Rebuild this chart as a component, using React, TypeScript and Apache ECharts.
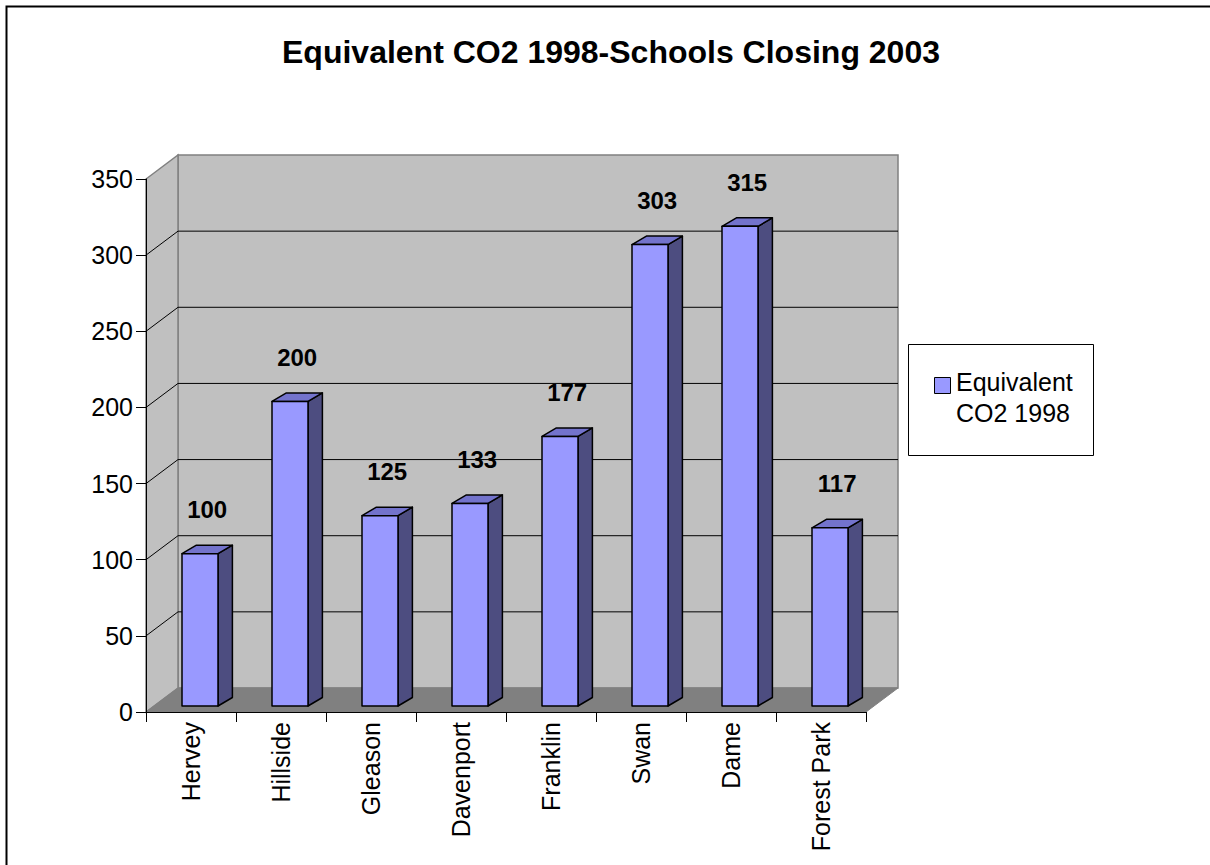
import React, { useEffect, useRef } from "react";
import * as echarts from "echarts";

// School names along the category axis
const categories = ["Hervey", "Hillside", "Gleason", "Davenport", "Franklin", "Swan", "Dame", "Forest Park"];
// Equivalent CO2 for 1998, one value per school
const co2Values = [100, 200, 125, 133, 177, 303, 315, 117];
// Value axis ticks
const yTicks = [0, 50, 100, 150, 200, 250, 300, 350];
const seriesName = "Equivalent CO2 1998";
const chartTitle = "Equivalent CO2 1998-Schools Closing 2003";

const FONT = "'Liberation Sans', Arial, Helvetica, sans-serif";

// Projection of the 3D box: wall depth and bar depth offsets (px)
const WALL_DX = 32;
const WALL_DY = -24;
const BAR_OX = 9;
const BAR_OY = -6;
const BAR_DX = 14.4;
const BAR_DY = -8.5;

export default function App() {
  const ref = useRef<HTMLDivElement>(null);

  useEffect(() => {
    if (!ref.current) return;
    const chart = echarts.init(ref.current, undefined, { renderer: "svg" });

    const renderWalls = (params: any, api: any) => {
      const cs = params.coordSys;
      const x0 = cs.x;
      const x1 = cs.x + cs.width;
      const yb = api.coord([0, yTicks[0]])[1];
      const yt = api.coord([0, yTicks[yTicks.length - 1]])[1];
      const children: any[] = [];
      // back wall
      children.push({
        type: "rect",
        shape: { x: x0 + WALL_DX, y: yt + WALL_DY, width: x1 - x0, height: yb - yt },
        style: { fill: "#c0c0c0", stroke: "#808080", lineWidth: 1.5 },
      });
      // side wall
      children.push({
        type: "polygon",
        shape: {
          points: [
            [x0, yb],
            [x0, yt],
            [x0 + WALL_DX, yt + WALL_DY],
            [x0 + WALL_DX, yb + WALL_DY],
          ],
        },
        style: { fill: "#c0c0c0", stroke: "#808080", lineWidth: 1.5 },
      });
      // gridlines on back and side walls
      yTicks.slice(1, -1).forEach((v) => {
        const y = api.coord([0, v])[1];
        children.push({
          type: "polyline",
          shape: {
            points: [
              [x0, y],
              [x0 + WALL_DX, y + WALL_DY],
              [x1 + WALL_DX, y + WALL_DY],
            ],
          },
          style: { stroke: "#000", lineWidth: 1, fill: null },
        });
      });
      // floor
      children.push({
        type: "polygon",
        shape: {
          points: [
            [x0, yb],
            [x1, yb],
            [x1 + WALL_DX, yb + WALL_DY],
            [x0 + WALL_DX, yb + WALL_DY],
          ],
        },
        style: { fill: "#808080", stroke: "#808080", lineWidth: 1 },
      });
      return { type: "group", children };
    };

    const renderBar = (params: any, api: any) => {
      const idx = api.value(0);
      const val = api.value(1);
      const base = api.coord([idx, 0]);
      const top = api.coord([idx, val]);
      const w = api.size([1, 0])[0] * 0.4;
      const xl = base[0] + BAR_OX - w / 2;
      const xr = xl + w;
      const yb = base[1] + BAR_OY;
      const yt = top[1] + BAR_OY;
      const edge = { stroke: "#000", lineWidth: 1.5, lineJoin: "round" };
      return {
        type: "group",
        children: [
          {
            type: "polygon",
            shape: {
              points: [
                [xr, yb],
                [xr, yt],
                [xr + BAR_DX, yt + BAR_DY],
                [xr + BAR_DX, yb + BAR_DY],
              ],
            },
            style: { fill: "#4d4d80", ...edge },
          },
          {
            type: "polygon",
            shape: {
              points: [
                [xl, yt],
                [xr, yt],
                [xr + BAR_DX, yt + BAR_DY],
                [xl + BAR_DX, yt + BAR_DY],
              ],
            },
            style: { fill: "#7373cc", ...edge },
          },
          {
            type: "rect",
            shape: { x: xl, y: yt, width: w, height: yb - yt },
            style: { fill: "#9999ff", ...edge },
          },
          {
            type: "text",
            style: {
              text: String(val),
              x: (xl + xr) / 2 + BAR_DX / 2,
              y: yt - 44,
              align: "center",
              verticalAlign: "middle",
              fontSize: 24,
              fontWeight: "bold",
              fontFamily: FONT,
              fill: "#000",
            },
          },
        ],
      };
    };

    const legendLines = seriesName.replace(" CO2", "\nCO2");

    chart.setOption({
      animation: false,
      backgroundColor: "#fff",
      textStyle: { fontFamily: FONT },
      grid: { left: 146, top: 179, width: 720, height: 533, containLabel: false },
      xAxis: {
        type: "category",
        data: categories,
        boundaryGap: true,
        z: 5,
        axisLine: { show: true, lineStyle: { color: "#000", width: 1 } },
        axisTick: { show: true, length: 10, alignWithLabel: false, lineStyle: { color: "#000" } },
        axisLabel: {
          rotate: 90,
          margin: 10,
          fontSize: 25,
          color: "#000",
          fontFamily: FONT,
          interval: 0,
        },
        splitLine: { show: false },
      },
      yAxis: {
        type: "value",
        min: 0,
        max: 350,
        interval: 50,
        z: 5,
        axisLine: { show: true, lineStyle: { color: "#000", width: 1 } },
        axisTick: { show: true, length: 10, lineStyle: { color: "#000" } },
        axisLabel: { fontSize: 25, color: "#000", margin: 13, fontFamily: FONT },
        splitLine: { show: false },
      },
      series: [
        {
          type: "custom",
          name: "walls",
          z: 1,
          silent: true,
          renderItem: renderWalls,
          data: [[0, 0]],
        },
        {
          type: "custom",
          name: seriesName,
          z: 2,
          silent: true,
          renderItem: renderBar,
          data: co2Values.map((v, i) => [i, v]),
        },
      ],
      graphic: [
        {
          type: "rect",
          shape: { x: 6.5, y: 6.5, width: 1260, height: 920 },
          style: { fill: "none", stroke: "#000", lineWidth: 2 },
          silent: true,
        },
        {
          type: "text",
          x: 611,
          y: 52,
          style: {
            text: chartTitle,
            align: "center",
            verticalAlign: "middle",
            fontSize: 32,
            fontWeight: "bold",
            fontFamily: FONT,
            fill: "#000",
          },
        },
        {
          type: "group",
          children: [
            {
              type: "rect",
              shape: { x: 908.5, y: 344.5, width: 185, height: 111 },
              style: { fill: "#fff", stroke: "#000", lineWidth: 1 },
            },
            {
              type: "rect",
              shape: { x: 934.5, y: 377.5, width: 16, height: 16 },
              style: { fill: "#9999ff", stroke: "#000", lineWidth: 1 },
            },
            {
              type: "text",
              x: 956,
              y: 366,
              style: {
                text: legendLines,
                align: "left",
                verticalAlign: "top",
                fontSize: 25,
                lineHeight: 31.5,
                fontFamily: FONT,
                fill: "#000",
              },
            },
          ],
        },
      ],
    });

    return () => chart.dispose();
  }, []);

  return (
    <div
      ref={ref}
      style={{ position: "fixed", left: 0, top: 0, width: 1210, height: 865, background: "#fff" }}
    />
  );
}
